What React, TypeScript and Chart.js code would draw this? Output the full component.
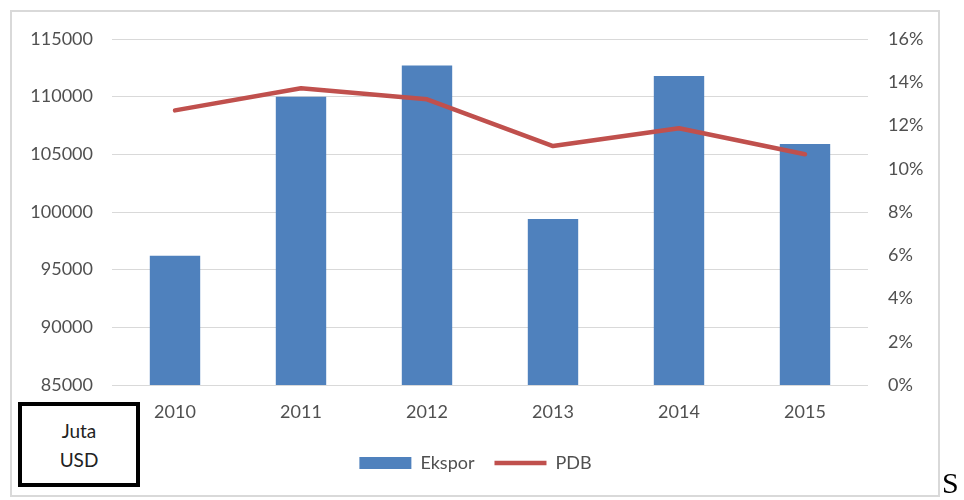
import React, { useEffect, useRef } from "react";
import { Chart, registerables } from "chart.js";

Chart.register(...registerables);

const years = ["2010", "2011", "2012", "2013", "2014", "2015"];
const ekspor = [96200, 110000, 112700, 99400, 111800, 105900];
const pdb = [12.7, 13.72, 13.21, 11.05, 11.87, 10.67];

const FONT = "Lato, 'Liberation Sans', sans-serif";
const TXT = "#505050";

export default function App() {
  const ref = useRef<HTMLCanvasElement | null>(null);

  useEffect(() => {
    if (!ref.current) return;
    const chart = new Chart(ref.current, {
      type: "bar",
      data: {
        labels: years,
        datasets: [
          {
            type: "bar",
            label: "Ekspor",
            data: ekspor,
            backgroundColor: "#4f81bd",
            borderWidth: 0,
            yAxisID: "y",
            order: 1,
            barPercentage: 0.4,
            categoryPercentage: 1,
            pointStyle: "rect",
          } as any,
          {
            type: "line",
            label: "PDB",
            data: pdb,
            borderColor: "#c0504d",
            backgroundColor: "#c0504d",
            borderWidth: 4.5,
            borderCapStyle: "round",
            borderJoinStyle: "round",
            tension: 0,
            pointRadius: 0,
            pointHoverRadius: 0,
            pointStyle: "line",
            yAxisID: "y1",
            order: 0,
          } as any,
        ],
      },
      options: {
        responsive: false,
        animation: false,
        devicePixelRatio: 1,
        layout: { padding: { left: 10, right: 23, top: 39, bottom: 18 } },
        plugins: {
          tooltip: { enabled: false },
          legend: {
            position: "bottom",
            labels: {
              usePointStyle: true,
              pointStyleWidth: 52,
              boxHeight: 12,
              padding: 20,
              color: TXT,
              font: { family: FONT, size: 18 },
              sort: (a: any, b: any) => a.datasetIndex - b.datasetIndex,
            },
          },
        },
        scales: {
          x: {
            grid: { display: false, drawTicks: false },
            border: { display: false },
            ticks: { color: TXT, font: { family: FONT, size: 18 }, padding: 16 },
            afterFit: (s: any) => {
              s.height = 49;
            },
          },
          y: {
            position: "left",
            min: 85000,
            max: 115000,
            ticks: {
              stepSize: 5000,
              color: TXT,
              padding: 19,
              font: { family: FONT, size: 18 },
              callback: (v: any) => String(v),
            },
            grid: { color: "#d9d9d9", lineWidth: 1, drawTicks: false },
            border: { display: false },
            afterFit: (s: any) => {
              s.width = 102;
            },
          },
          y1: {
            position: "right",
            min: 0,
            max: 16,
            ticks: {
              stepSize: 2,
              color: TXT,
              padding: 20,
              font: { family: FONT, size: 18 },
              callback: (v: any) => v + "%",
            },
            grid: { drawOnChartArea: false, drawTicks: false },
            border: { display: false },
            afterFit: (s: any) => {
              s.width = 73;
            },
          },
        },
      },
    });
    return () => chart.destroy();
  }, []);

  return (
    <div style={{ position: "fixed", left: 0, top: 0, width: 964, height: 500, background: "#fff", overflow: "hidden" }}>
      <div
        style={{
          position: "absolute",
          left: 10,
          top: 10,
          width: 930,
          height: 487,
          border: "2px solid #d9d9d9",
          boxSizing: "border-box",
        }}
      />
      <canvas ref={ref} width={964} height={500} style={{ position: "absolute", left: 0, top: 0, width: 964, height: 500 }} />
      <div
        style={{
          position: "absolute",
          left: 18,
          top: 402,
          width: 122,
          height: 85,
          border: "4px solid #000",
          boxSizing: "border-box",
          background: "#fff",
          display: "flex",
          flexDirection: "column",
          alignItems: "center",
          justifyContent: "center",
          fontFamily: FONT,
          fontSize: 19,
          lineHeight: "29px",
          color: "#222",
        }}
      >
        <div>Juta</div>
        <div>USD</div>
      </div>
      <div
        style={{
          position: "absolute",
          left: 942,
          top: 468,
          fontFamily: "'Liberation Serif', 'DejaVu Serif', serif",
          fontSize: 30,
          lineHeight: "30px",
          color: "#000",
        }}
      >
        S
      </div>
    </div>
  );
}
